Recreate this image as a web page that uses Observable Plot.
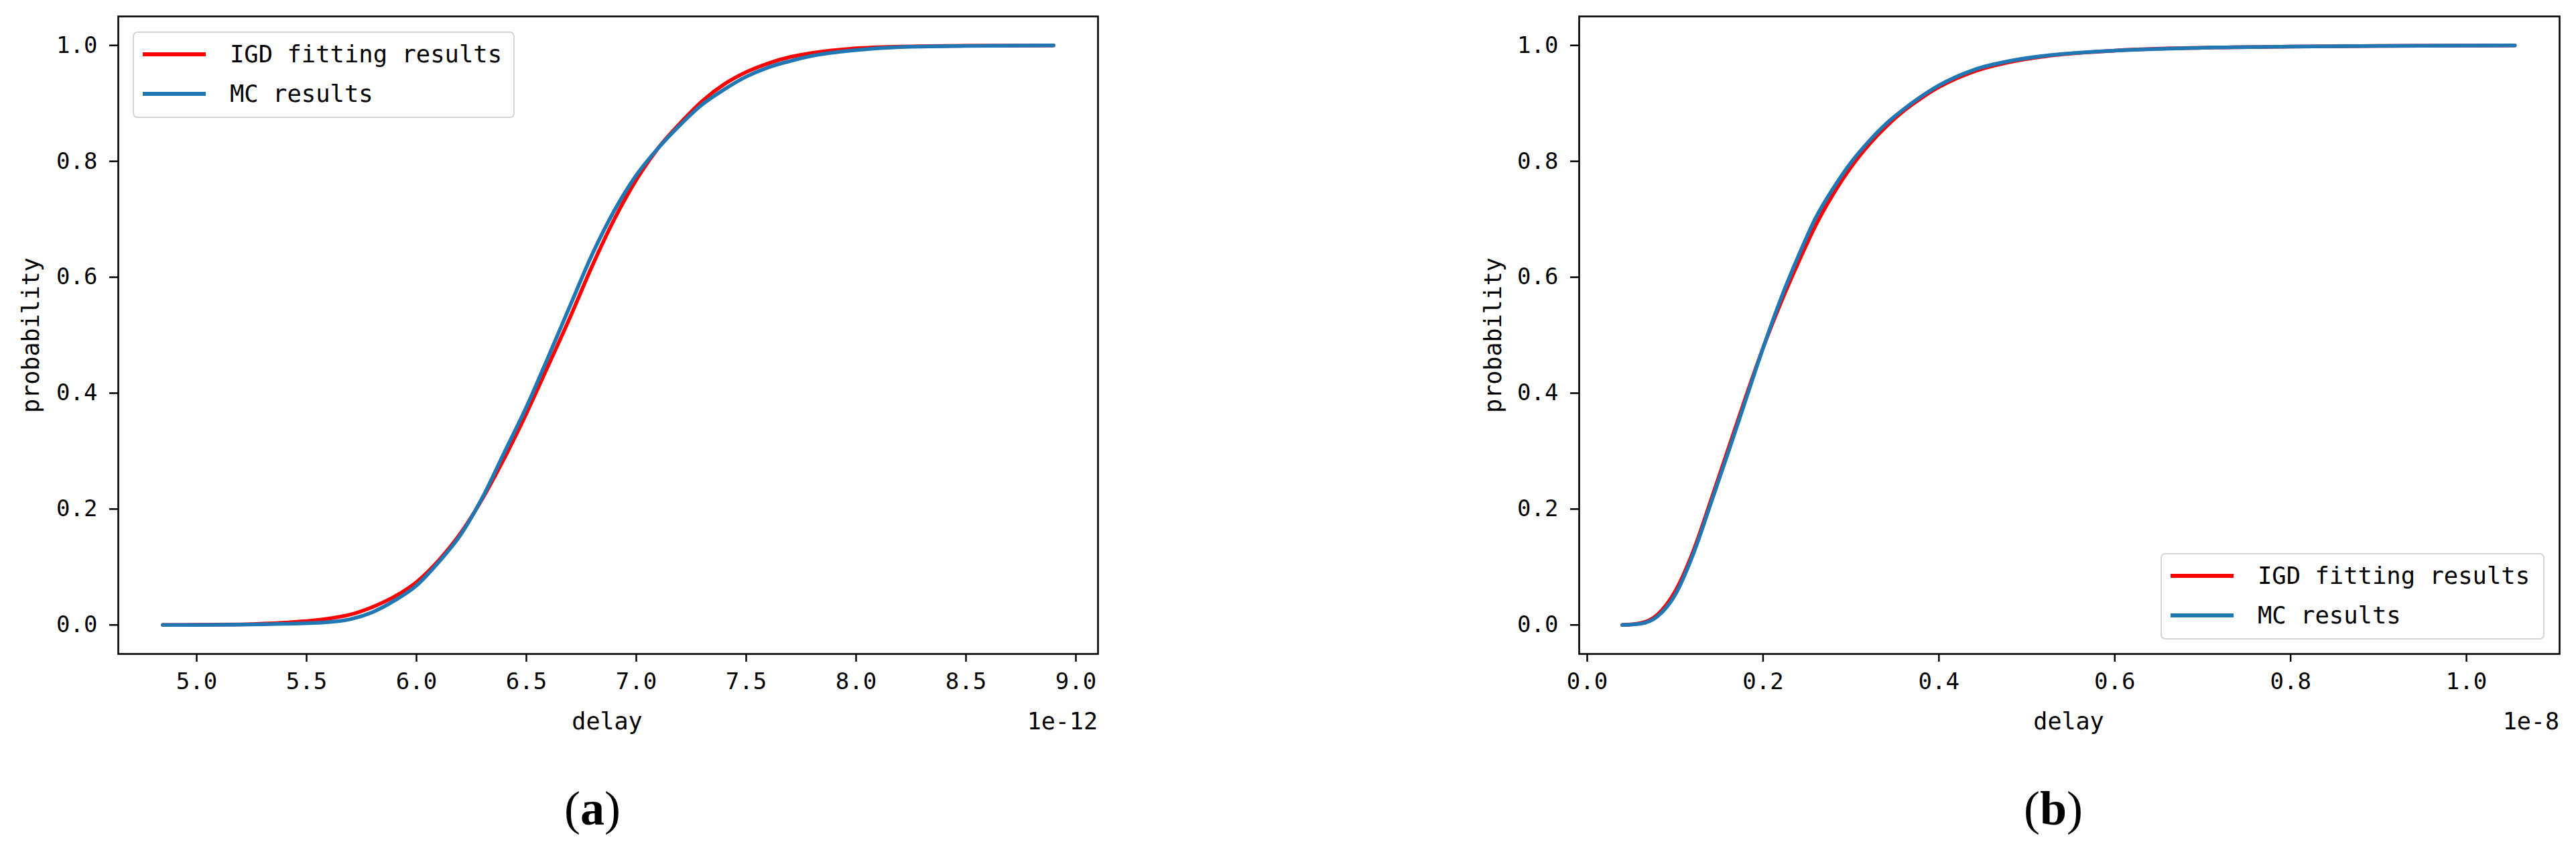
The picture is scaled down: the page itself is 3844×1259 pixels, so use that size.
<!DOCTYPE html>
<html>
<head>
<meta charset="utf-8">
<script src="https://cdn.jsdelivr.net/npm/d3@7"></script>
<script src="https://cdn.jsdelivr.net/npm/@observablehq/plot@0.6"></script>
<style>
  html, body { margin: 0; padding: 0; background: #ffffff; }
  #page { position: relative; width: 3844px; height: 1259px; background: #ffffff; overflow: hidden; }
  .panel { position: absolute; top: 0; }
  .panel svg { max-width: none !important; display: block; }
  .lbl { position: absolute; font-family: "DejaVu Sans Mono", monospace; font-size: 35px; color: #000; line-height: 1; white-space: nowrap; }
  .cap { position: absolute; font-family: "Liberation Serif", "DejaVu Serif", serif; font-size: 72px; color: #000; line-height: 1; transform: translate(-50%, -50%); }
  .cap b { font-weight: bold; }
  .legend { position: absolute; box-sizing: border-box; border: 2px solid #d4d4d4; border-radius: 7px; background: rgba(255,255,255,0.85); }
  .legend .sw { position: absolute; height: 6px; width: 94px; left: 13px; }
  .legend .tx { position: absolute; left: 143px; font-family: "DejaVu Sans Mono", monospace; font-size: 35.5px; line-height: 1; transform: translateY(-50%); white-space: nowrap; }
</style>
</head>
<body>
<div id="page"></div>
<script>
// ---------------- data ----------------
// Panel (a): delay in units of 1e-12
const delayA = [4.846, 5.0, 5.2, 5.4, 5.6, 5.7, 5.8, 5.9, 6.0, 6.1, 6.2, 6.3, 6.4, 6.5, 6.6, 6.7, 6.8, 6.9, 7.0, 7.1, 7.2, 7.3, 7.4, 7.5, 7.6, 7.7, 7.8, 8.0, 8.2, 8.5, 8.898];
const igdA = [0, 0.0003, 0.001, 0.004, 0.011, 0.018, 0.031, 0.049, 0.074, 0.111, 0.158, 0.218, 0.288, 0.365, 0.448, 0.532, 0.620, 0.700, 0.768, 0.823, 0.866, 0.904, 0.933, 0.954, 0.969, 0.980, 0.987, 0.995, 0.998, 0.9995, 1.0];
const mcA = [0, 0, 0.0005, 0.002, 0.005, 0.010, 0.022, 0.042, 0.068, 0.108, 0.155, 0.220, 0.298, 0.376, 0.463, 0.552, 0.640, 0.715, 0.776, 0.823, 0.863, 0.898, 0.924, 0.946, 0.962, 0.973, 0.982, 0.992, 0.997, 0.999, 1.0];

// Panel (b): delay in units of 1e-8
const delayB = [0.04, 0.06, 0.08, 0.10, 0.12, 0.14, 0.16, 0.18, 0.20, 0.22, 0.24, 0.26, 0.28, 0.30, 0.32, 0.34, 0.36, 0.38, 0.40, 0.44, 0.48, 0.52, 0.60, 0.70, 0.80, 0.90, 1.055];
const igdB = [0, 0.003, 0.018, 0.058, 0.125, 0.212, 0.302, 0.392, 0.478, 0.555, 0.625, 0.690, 0.744, 0.790, 0.828, 0.860, 0.887, 0.909, 0.928, 0.955, 0.971, 0.981, 0.991, 0.996, 0.998, 0.999, 1.0];
const mcB = [0, 0.002, 0.015, 0.052, 0.120, 0.207, 0.296, 0.387, 0.478, 0.562, 0.636, 0.703, 0.754, 0.798, 0.834, 0.865, 0.890, 0.912, 0.931, 0.958, 0.973, 0.982, 0.991, 0.996, 0.998, 0.999, 1.0];

const xTicksA = [5.0, 5.5, 6.0, 6.5, 7.0, 7.5, 8.0, 8.5, 9.0];
const xTicksB = [0.0, 0.2, 0.4, 0.6, 0.8, 1.0];
const yTicks = [0.0, 0.2, 0.4, 0.6, 0.8, 1.0];

const seriesNames = ["IGD fitting results", "MC results"];
const seriesColors = ["#ff0000", "#1f77b4"];
const xLabel = "delay";
const yLabel = "probability";
const offsetA = "1e-12";
const offsetB = "1e-8";
const captions = ["a", "b"];

// ---------------- drawing ----------------
const page = document.getElementById("page");
const fmt = d3.format(".1f");

function rows(xs, ys) { return xs.map((x, i) => ({x, y: ys[i]})); }

function panel(opts) {
  const {left, width, mLeft, mRight, xDomain, xTicks, igd, mc, xs} = opts;
  const H = 1140;
  const chart = Plot.plot({
    width, height: H,
    marginLeft: mLeft, marginRight: mRight, marginTop: 24, marginBottom: H - 975,
    style: {fontFamily: "DejaVu Sans Mono, monospace", fontSize: "34px", background: "transparent", color: "#000", overflow: "visible"},
    x: {domain: xDomain, label: null},
    y: {domain: [-0.05, 1.05], label: null},
    marks: [
      Plot.line(rows(xs, igd), {x: "x", y: "y", stroke: seriesColors[0], strokeWidth: 5.5, curve: "monotone-x"}),
      Plot.line(rows(xs, mc), {x: "x", y: "y", stroke: seriesColors[1], strokeWidth: 5.5, curve: "monotone-x"}),
      Plot.frame({stroke: "#000", strokeWidth: 2.6}),
      Plot.axisX({ticks: xTicks, tickFormat: fmt, tickSize: 12, tickPadding: 16, strokeWidth: 2.5, label: null}),
      Plot.axisY({ticks: yTicks, tickFormat: fmt, tickSize: 13, tickPadding: 18, strokeWidth: 2.5, label: null})
    ]
  });
  const wrap = document.createElement("div");
  wrap.className = "panel";
  wrap.style.left = left + "px";
  wrap.appendChild(chart);
  page.appendChild(wrap);
}

panel({left: 0, width: 1720, mLeft: 176, mRight: 1720 - 1638, xDomain: [4.6433, 9.1006], xTicks: xTicksA, igd: igdA, mc: mcA, xs: delayA});
panel({left: 2100, width: 1744, mLeft: 256, mRight: 1744 - 1719, xDomain: [-0.00915, 1.1059], xTicks: xTicksB, igd: igdB, mc: mcB, xs: delayB});

function addText(cls, html, css) {
  const d = document.createElement("div");
  d.className = cls;
  d.innerHTML = html;
  Object.assign(d.style, css);
  page.appendChild(d);
  return d;
}

// axis labels
addText("lbl", xLabel, {left: "906px", top: "1076px", transform: "translate(-50%,-50%)"});
addText("lbl", xLabel, {left: "3087px", top: "1076px", transform: "translate(-50%,-50%)"});
addText("lbl", yLabel, {left: "46px", top: "500px", transform: "translate(-50%,-50%) rotate(-90deg)"});
addText("lbl", yLabel, {left: "2228px", top: "500px", transform: "translate(-50%,-50%) rotate(-90deg)"});
// offset texts
addText("lbl", offsetA, {left: "1638px", top: "1076px", transform: "translate(-100%,-50%)"});
addText("lbl", offsetB, {left: "3819px", top: "1076px", transform: "translate(-100%,-50%)"});
// captions
addText("cap", "(<b>" + captions[0] + "</b>)", {left: "884px", top: "1206px"});
addText("cap", "(<b>" + captions[1] + "</b>)", {left: "3064px", top: "1206px"});

// legends
function legend(x, y, w, h, y1, y2) {
  const L = document.createElement("div");
  L.className = "legend";
  Object.assign(L.style, {left: x + "px", top: y + "px", width: w + "px", height: h + "px"});
  [y1, y2].forEach((yy, i) => {
    const s = document.createElement("div");
    s.className = "sw";
    s.style.top = (yy - 3) + "px";
    s.style.background = seriesColors[i];
    L.appendChild(s);
    const t = document.createElement("div");
    t.className = "tx";
    t.style.top = yy + "px";
    t.textContent = seriesNames[i];
    L.appendChild(t);
  });
  page.appendChild(L);
}
legend(198, 47, 570, 129, 32, 91);
legend(3224, 825, 573, 129, 32, 91);
</script>
</body>
</html>
